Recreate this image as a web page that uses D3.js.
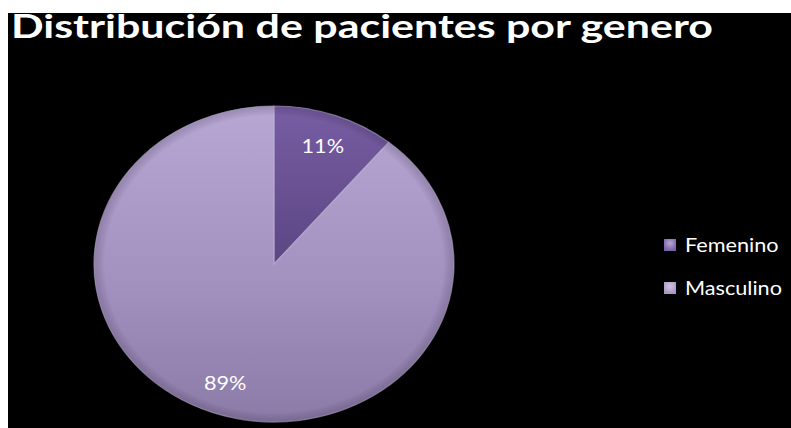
<!DOCTYPE html>
<html>
<head>
<meta charset="utf-8">
<script src="https://cdn.jsdelivr.net/npm/d3@7"></script>
<style>
  html, body { margin: 0; padding: 0; background: #ffffff; }
  svg { display: block; }
</style>
</head>
<body>
<script>
// Patient distribution by gender
const categories = ["Femenino", "Masculino"];
const values = [11, 89];
const labels = ["11%", "89%"];
const titleText = "Distribución de pacientes por genero";

const W = 791, H = 428;
const stretch = 180 / 158; // horizontal stretch of the whole chart
const svg = d3.select("body").append("svg").attr("width", W).attr("height", H);

// Dark panel
svg.append("rect").attr("x", 8).attr("y", 13).attr("width", W - 8).attr("height", H - 13).attr("fill", "#000");

const defs = svg.append("defs");
const grads = [
  { id: "gFem", stops: [["0%", "#775da3"], ["100%", "#5c4683"]] },
  { id: "gMas", stops: [["0%", "#b7a7d3"], ["55%", "#a391c0"], ["100%", "#8b7ba7"]] }
];
grads.forEach(g => {
  const lg = defs.append("linearGradient").attr("id", g.id)
    .attr("x1", 0).attr("y1", 0).attr("x2", 0).attr("y2", 1);
  g.stops.forEach(s => lg.append("stop").attr("offset", s[0]).attr("stop-color", s[1]));
});
// soft rim shading for the bevel look
const rim = defs.append("radialGradient").attr("id", "gRim").attr("cx", "50%").attr("cy", "50%").attr("r", "50%");
rim.append("stop").attr("offset", "94%").attr("stop-color", "#000").attr("stop-opacity", 0);
rim.append("stop").attr("offset", "100%").attr("stop-color", "#2a1f3d").attr("stop-opacity", 0.2);

const legGrad = defs.append("radialGradient").attr("id", "gLeg").attr("cx", "50%").attr("cy", "35%").attr("r", "60%");
legGrad.append("stop").attr("offset", "0%").attr("stop-color", "#ffffff").attr("stop-opacity", 0.45);
legGrad.append("stop").attr("offset", "100%").attr("stop-color", "#ffffff").attr("stop-opacity", 0);

const fills = ["url(#gFem)", "url(#gMas)"];
const legendFills = ["#7b62a8", "#a998c6"];
const font = "Lato, 'Open Sans', sans-serif";

// widen a text element by the chart's horizontal stretch
function widen(sel) {
  sel.each(function () {
    const len = this.getComputedTextLength();
    d3.select(this).attr("textLength", len * stretch).attr("lengthAdjust", "spacingAndGlyphs");
  });
}

// Title
svg.append("text")
  .attr("x", 11).attr("y", 38)
  .attr("font-family", font)
  .attr("font-weight", 700)
  .attr("font-size", 32)
  .attr("fill", "#fff")
  .text(titleText)
  .attr("textLength", 702)
  .attr("lengthAdjust", "spacingAndGlyphs");

// Pie (widened ellipse)
const cx = 274, cy = 264, r = 158;
const pie = d3.pie().sort(null).value(d => d)(values);
const arc = d3.arc().innerRadius(0).outerRadius(r);
const labelArc = d3.arc().innerRadius(r * 0.8).outerRadius(r * 0.8);

const g = svg.append("g").attr("transform", `translate(${cx},${cy}) scale(${stretch},1)`);
g.selectAll("path.slice").data(pie).join("path")
  .attr("class", "slice")
  .attr("d", arc)
  .attr("fill", (d, i) => fills[i])
  .attr("stroke", "#cdc1e3")
  .attr("stroke-opacity", 0.5)
  .attr("stroke-width", 1.2)
  .attr("vector-effect", "non-scaling-stroke");
g.append("circle").attr("r", r).attr("fill", "url(#gRim)").attr("pointer-events", "none");

// Value labels
svg.append("g").selectAll("text").data(pie).join("text")
  .attr("x", d => cx + labelArc.centroid(d)[0] * stretch)
  .attr("y", d => cy + labelArc.centroid(d)[1])
  .attr("text-anchor", "middle")
  .attr("dominant-baseline", "central")
  .attr("font-family", font)
  .attr("font-size", 19)
  .attr("fill", "#fff")
  .text((d, i) => labels[i])
  .call(widen);

// Legend
const legend = svg.append("g").attr("transform", "translate(664,239)");
const items = legend.selectAll("g").data(categories).join("g")
  .attr("transform", (d, i) => `translate(0,${i * 43})`);
items.append("rect").attr("width", 12).attr("height", 12)
  .attr("fill", (d, i) => legendFills[i]);
items.append("rect").attr("width", 12).attr("height", 12).attr("fill", "url(#gLeg)");
items.append("text")
  .attr("x", 21).attr("y", 13)
  .attr("font-family", font)
  .attr("font-size", 19)
  .attr("fill", "#fff")
  .text(d => d)
  .call(widen);
</script>
</body>
</html>
